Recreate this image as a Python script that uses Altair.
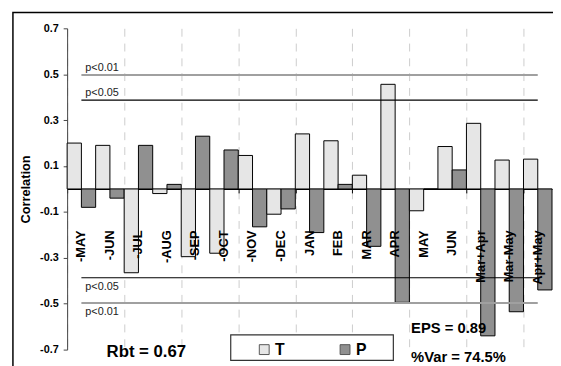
import altair as alt
import pandas as pd

categories = ["-MAY", "-JUN", "-JUL", "-AUG", "-SEP", "-OCT", "-NOV", "-DEC",
              "JAN", "FEB", "MAR", "APR", "MAY", "JUN", "Mar+Apr", "Mar-May", "Apr+May"]
t_values = [0.20, 0.19, -0.365, -0.02, -0.295, -0.28, 0.146, -0.11,
            0.24, 0.21, 0.06, 0.456, -0.095, 0.185, 0.286, 0.126, 0.13]
p_values = [-0.08, -0.04, 0.19, 0.02, 0.23, 0.17, -0.165, -0.087,
            -0.19, 0.02, -0.25, -0.494, 0.0, 0.083, -0.64, -0.535, -0.44]
sig_labels = ["p<0.01", "p<0.05", "p<0.05", "p<0.01"]
sig_values = [0.497, 0.387, -0.387, -0.497]
y_ticks = [-0.7, -0.5, -0.3, -0.1, 0.1, 0.3, 0.5, 0.7]
series_names = ["T", "P"]
stats_text = ["Rbt = 0.67", "EPS = 0.89", "%Var = 74.5%"]

FONT = "Liberation Sans"
T_FILL = "#e6e6e6"
P_FILL = "#909090"
n = len(categories)

rows = []
for i, c in enumerate(categories):
    rows.append({"cat": c, "series": "T", "value": t_values[i], "x0": i, "x1": i + 0.5})
    rows.append({"cat": c, "series": "P", "value": p_values[i], "x0": i + 0.5, "x1": i + 1})
bars_df = pd.DataFrame(rows)
cat_df = pd.DataFrame({"cat": categories, "center": [i + 0.5 for i in range(n)]})
sig_df = pd.DataFrame({"label": sig_labels, "value": sig_values,
                       "start": [0.5] * 4, "end": [n - 0.5] * 4})

xscale = alt.Scale(domain=[0, n], nice=False, zero=False)
yscale = alt.Scale(domain=[-0.7, 0.7], nice=False)

x_axis = alt.Axis(values=list(range(n + 1)), labels=False, title=None,
                  tickSize=4, tickColor="black", domainColor="black", domainWidth=1.2,
                  grid=True, gridDash=[8, 7], gridColor="#cccccc", gridWidth=1,
                  offset=-163)
y_axis = alt.Axis(values=y_ticks,
                  labelExpr="datum.value < 0 ? '-' + format(-datum.value, '.1f') : format(datum.value, '.1f')",
                  labelFont=FONT, labelFontSize=11, labelFontWeight="bold", labelColor="black",
                  labelPadding=5, tickSize=4, tickColor="#444", domainColor="#444",
                  grid=False, title="Correlation", titleFont=FONT, titleFontSize=13,
                  titleFontWeight="bold", titleColor="black", titleX=-35, titleY=163)

bars = alt.Chart(bars_df).mark_bar(stroke="black", strokeWidth=1).encode(
    x=alt.X("x0:Q", scale=xscale, axis=x_axis),
    x2="x1",
    y=alt.Y("value:Q", scale=yscale, axis=y_axis),
    y2=alt.datum(0),
    fill=alt.Fill("series:N", scale=alt.Scale(domain=series_names, range=[T_FILL, P_FILL]), legend=None),
)

rule01 = alt.Chart(sig_df).transform_filter("datum.label == 'p<0.01'").mark_rule(
    color="#a0a0a0", strokeWidth=2).encode(x=alt.X("start:Q", scale=xscale), x2="end",
                                           y=alt.Y("value:Q", scale=yscale))
rule05 = alt.Chart(sig_df).transform_filter("datum.label == 'p<0.05'").mark_rule(
    color="black", strokeWidth=1.2).encode(x=alt.X("start:Q", scale=xscale), x2="end",
                                           y=alt.Y("value:Q", scale=yscale))
sig_pos = alt.Chart(sig_df).transform_filter("datum.value > 0").mark_text(
    align="left", baseline="bottom", dx=4, dy=-2, font=FONT, fontSize=11, color="#222").encode(
    x=alt.X("start:Q", scale=xscale), y=alt.Y("value:Q", scale=yscale), text="label:N")
sig_neg = alt.Chart(sig_df).transform_filter("datum.value < 0").mark_text(
    align="left", baseline="top", dx=4, dy=3, font=FONT, fontSize=11, color="#222").encode(
    x=alt.X("start:Q", scale=xscale), y=alt.Y("value:Q", scale=yscale), text="label:N")

cat_labels = alt.Chart(cat_df).mark_text(
    angle=270, align="right", baseline="middle", font=FONT, fontSize=13,
    fontWeight="bold", color="black").encode(
    x=alt.X("center:Q", scale=xscale), y=alt.value(205), text="cat:N")

frame = alt.Chart(cat_df.head(1)).mark_rect(
    fillOpacity=0, stroke="black", strokeWidth=1.5).encode(
    x=alt.value(-55), x2=alt.value(520), y=alt.value(-16), y2=alt.value(380))

legend_box = alt.Chart(cat_df.head(1)).mark_rect(
    fill="white", stroke="#333", strokeWidth=1.2).encode(
    x=alt.value(166), x2=alt.value(331), y=alt.value(311), y2=alt.value(337))
leg_t = alt.Chart(cat_df.head(1)).mark_rect(fill=T_FILL, stroke="#555", strokeWidth=1).encode(
    x=alt.value(195), x2=alt.value(205), y=alt.value(321), y2=alt.value(331))
leg_p = alt.Chart(cat_df.head(1)).mark_rect(fill=P_FILL, stroke="#555", strokeWidth=1).encode(
    x=alt.value(277), x2=alt.value(287), y=alt.value(321), y2=alt.value(331))
leg_t_txt = alt.Chart(cat_df.head(1)).mark_text(
    align="left", baseline="middle", font=FONT, fontSize=16, fontWeight="bold", text=series_names[0]).encode(
    x=alt.value(211), y=alt.value(326))
leg_p_txt = alt.Chart(cat_df.head(1)).mark_text(
    align="left", baseline="middle", font=FONT, fontSize=16, fontWeight="bold", text=series_names[1]).encode(
    x=alt.value(293), y=alt.value(326))

rbt = alt.Chart(cat_df.head(1)).mark_text(
    align="left", baseline="alphabetic", font=FONT, fontSize=17, fontWeight="bold", text=stats_text[0]).encode(
    x=alt.value(40), y=alt.value(334))
eps = alt.Chart(cat_df.head(1)).mark_text(
    align="left", baseline="alphabetic", font=FONT, fontSize=15, fontWeight="bold", text=stats_text[1]).encode(
    x=alt.value(349), y=alt.value(309))
var = alt.Chart(cat_df.head(1)).mark_text(
    align="left", baseline="alphabetic", font=FONT, fontSize=15, fontWeight="bold", text=stats_text[2]).encode(
    x=alt.value(349), y=alt.value(339))

chart = alt.layer(
    frame, bars, rule01, rule05, sig_pos, sig_neg, cat_labels,
    legend_box, leg_t, leg_p, leg_t_txt, leg_p_txt, rbt, eps, var
).properties(
    width=492, height=326,
    autosize=alt.AutoSizeParams(type="none"),
    padding={"left": 60, "top": 18, "right": 1, "bottom": 14},
    background="white",
).configure_view(stroke=None)

chart.save("out.html", embed_options={"renderer": "svg", "actions": False})
